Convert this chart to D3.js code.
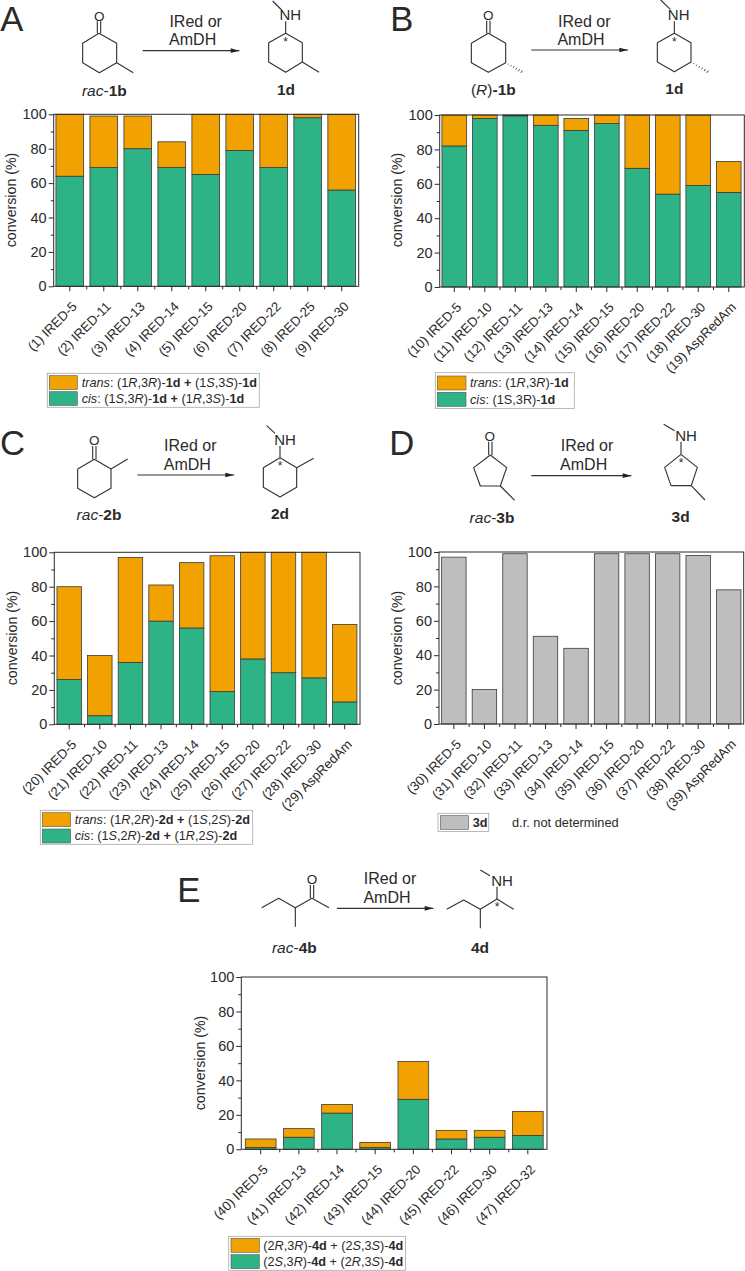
<!DOCTYPE html>
<html><head><meta charset="utf-8">
<script src="https://cdnjs.cloudflare.com/ajax/libs/d3/7.8.5/d3.min.js"></script>
<style>html,body{margin:0;padding:0;background:#fff}svg{display:block}text{font-family:"Liberation Sans",Arial,sans-serif;fill:#2a2a2a}</style>
</head><body><svg id="c" width="745" height="1271"></svg>
<script>
// ---------- data ----------
const catsA=["(1) IRED-5","(2) IRED-11","(3) IRED-13","(4) IRED-14","(5) IRED-15","(6) IRED-20","(7) IRED-22","(8) IRED-25","(9) IRED-30"];
const cisA=[64,69,80,69,65,79,69,98,56];
const transA=[36,30,19,15,35,21,31,2,44];
const catsB=["(10) IRED-5","(11) IRED-10","(12) IRED-11","(13) IRED-13","(14) IRED-14","(15) IRED-15","(16) IRED-20","(17) IRED-22","(18) IRED-30","(19) AspRedAm"];
const cisB=[82,98,99.5,94,91,95,69,54,59,55];
const transB=[18,2,0.5,6,7,5,31,46,41,18];
const catsC=["(20) IRED-5","(21) IRED-10","(22) IRED-11","(23) IRED-13","(24) IRED-14","(25) IRED-15","(26) IRED-20","(27) IRED-22","(28) IRED-30","(29) AspRedAm"];
const cisC=[26,5,36,60,56,19,38,30,27,13];
const transC=[54,35,61,21,38,79,62,70,73,45];
const catsD=["(30) IRED-5","(31) IRED-10","(32) IRED-11","(33) IRED-13","(34) IRED-14","(35) IRED-15","(36) IRED-20","(37) IRED-22","(38) IRED-30","(39) AspRedAm"];
const totalD=[97,20,99,51,44,99,99,99,98,78];
const catsE=["(40) IRED-5","(41) IRED-13","(42) IRED-14","(43) IRED-15","(44) IRED-20","(45) IRED-22","(46) IRED-30","(47) IRED-32"];
const cisE=[1,7,21,1,29,6,7,8];
const transE=[5,5,5,3,22,5,4,14];
const yTicks=[0,20,40,60,80,100];
const yMinor=[10,30,50,70,90];
const yLabel="conversion (%)";
// legend text: n = normal, i = italic, b = bold
const legA=[[["i","trans"],["n",": (1"],["i","R"],["n",",3"],["i","R"],["n",")-"],["b","1d"],["b"," + "],["n","(1"],["i","S"],["n",",3"],["i","S"],["n",")-"],["b","1d"]],
            [["i","cis"],["n",": (1"],["i","S"],["n",",3"],["i","R"],["n",")-"],["b","1d"],["b"," + "],["n","(1"],["i","R"],["n",",3"],["i","S"],["n",")-"],["b","1d"]]];
const legB=[[["i","trans"],["n",": (1"],["i","R"],["n",",3"],["i","R"],["n",")-"],["b","1d"]],
            [["i","cis"],["n",": (1S,3R)-"],["b","1d"]]];
const legC=[[["i","trans"],["n",": (1"],["i","R"],["n",",2"],["i","R"],["n",")-"],["b","2d"],["b"," + "],["n","(1"],["i","S"],["n",",2"],["i","S"],["n",")-"],["b","2d"]],
            [["i","cis"],["n",": (1"],["i","S"],["n",",2"],["i","R"],["n",")-"],["b","2d"],["b"," + "],["n","(1"],["i","R"],["n",",2"],["i","S"],["n",")-"],["b","2d"]]];
const legD=[[["b","3d"]]];
const legE=[[["n","(2"],["i","R"],["n",",3"],["i","R"],["n",")-"],["b","4d"],["n"," + "],["n","(2"],["i","S"],["n",",3"],["i","S"],["n",")-"],["b","4d"]],
            [["n","(2"],["i","S"],["n",",3"],["i","R"],["n",")-"],["b","4d"],["n"," + "],["n","(2"],["i","R"],["n",",3"],["i","S"],["n",")-"],["b","4d"]]];
const noteD="d.r. not determined";

// ---------- styles ----------
const ORANGE="#f1a200",GREEN="#2eb387",GREY="#bebebe",INK="#2a2a2a";
const svg=d3.select("#c");

function rich(sel,parts){
  parts.forEach(([k,t])=>{
    const s=sel.append("tspan").text(t);
    if(k==="i")s.attr("font-style","italic");
    if(k==="b")s.attr("font-weight","bold");
  });
}

function chart(o){
  const g=svg.append("g");
  const x=d3.scaleBand().domain(o.cats).range(o.xr).paddingInner(o.pad).paddingOuter(o.pad/2);
  const y=d3.scaleLinear().domain([0,100]).range([o.bottom,o.top]);
  const rows=o.cats.map((c,i)=>Object.fromEntries([["cat",c]].concat(o.series.map(s=>[s.key,s.values[i]]))));
  const stack=d3.stack().keys(o.series.map(s=>s.key))(rows);
  stack.forEach((lay,i)=>{
    g.append("g").selectAll("rect").data(lay).join("rect")
      .attr("x",d=>x(d.data.cat)).attr("width",x.bandwidth())
      .attr("y",d=>y(d[1])).attr("height",d=>y(d[0])-y(d[1]))
      .attr("fill",o.series[i].color).attr("stroke","#3a3a3a").attr("stroke-width",0.8);
  });
  g.append("rect").attr("x",o.left).attr("y",o.top).attr("width",o.right-o.left).attr("height",o.bottom-o.top)
    .attr("fill","none").attr("stroke",INK).attr("stroke-width",1);
  // y axis
  const ya=g.append("g").attr("transform",`translate(${o.left},0)`).call(d3.axisLeft(y).tickValues(yTicks).tickSize(5).tickPadding(2));
  ya.select(".domain").remove();
  ya.selectAll("line").attr("stroke",INK);
  ya.selectAll("text").attr("font-size",14.5).attr("font-family",'"Liberation Sans"').attr("fill",INK);
  const ym=g.append("g").attr("transform",`translate(${o.left},0)`).call(d3.axisLeft(y).tickValues(yMinor).tickSize(3).tickFormat(""));
  ym.select(".domain").remove(); ym.selectAll("line").attr("stroke",INK);
  // x axis
  const xa=g.append("g").attr("transform",`translate(0,${o.bottom})`).call(d3.axisBottom(x).tickSize(5).tickSizeOuter(0));
  xa.select(".domain").remove();
  xa.selectAll("line").attr("stroke",INK);
  xa.selectAll("text").attr("font-size",o.catSize||13.2).attr("font-family",'"Liberation Sans"').attr("fill","#333")
    .attr("text-anchor","end").attr("dy",0).attr("y",0)
    .attr("transform","translate(8,21) rotate(-45)");
  g.append("g").selectAll("line").data(o.cats.slice(1)).join("line")
    .attr("x1",c=>x(c)-x.step()*o.pad/2).attr("x2",c=>x(c)-x.step()*o.pad/2)
    .attr("y1",o.bottom).attr("y2",o.bottom+3).attr("stroke",INK);
  g.append("text").text(yLabel).attr("font-size",14.2).attr("fill","#333").attr("text-anchor","middle")
    .attr("transform",`translate(${o.ylx},${o.yly}) rotate(-90)`);
}

function legend(o){
  const g=svg.append("g");
  g.append("rect").attr("x",o.box[0]).attr("y",o.box[1]).attr("width",o.box[2]).attr("height",o.box[3])
    .attr("fill","#fff").attr("stroke","#a8a8a8").attr("stroke-width",0.8);
  o.items.forEach((it,i)=>{
    g.append("rect").attr("x",o.sx).attr("y",o.sy[i]).attr("width",o.sw).attr("height",o.sh)
      .attr("fill",it.color).attr("stroke","#555").attr("stroke-width",0.6);
    const t=g.append("text").attr("x",o.tx).attr("y",o.ty[i]).attr("font-size",o.size||12.7).attr("fill","#333");
    rich(t,it.parts);
  });
}

// ---------- schemes (drawn from zoomed-reference geometry, divided by 3) ----------
const line=d3.line();
function scheme(o){
  const g=svg.append("g").attr("transform",`translate(${o.ox},${o.oy}) scale(${1/3})`);
  const P=(pts,w)=>g.append("path").attr("d",line(pts)).attr("fill","none").attr("stroke","#333").attr("stroke-width",w||3.4).attr("stroke-linejoin","round");
  const label=(txt,x,y,size,anchor,parts)=>{
    const t=g.append("text").attr("x",x).attr("y",y).attr("font-size",size*3).attr("text-anchor",anchor||"middle").attr("fill","#222");
    if(parts)rich(t,parts); else t.text(txt);
    return t;
  };
  o.paths.forEach(p=>P(p));
  (o.dbl||[]).forEach(([a,b])=>{ P([[a[0]-5,a[1]],[b[0]-5,b[1]]]); P([[a[0]+5,a[1]],[b[0]+5,b[1]]]); });
  (o.hash||[]).forEach(([a,b])=>{
    const dx=b[0]-a[0],dy=b[1]-a[1],L=Math.hypot(dx,dy),nx=-dy/L,ny=dx/L;
    d3.range(1,7).forEach(i=>{const f=i/6.4,w=1+f*3.5,cx=a[0]+dx*f,cy=a[1]+dy*f;P([[cx-nx*w,cy-ny*w],[cx+nx*w,cy+ny*w]],2.6);});
  });
  P(o.arrow);
  const [ax,ay]=o.arrow[1];
  g.append("path").attr("d",line([[ax,ay],[ax-26,ay-7],[ax-26,ay+7]])+"Z").attr("fill","#222");
  label("O",o.O[0],o.O[1]+17,13.5);
  label("NH",o.NH[0],o.NH[1]+17,15);
  label("*",o.star[0],o.star[1]+11,12);
  label("IRed or",o.t1[0],o.t1[1],16);
  label("AmDH",o.t2[0],o.t2[1],16);
  label("",o.sub[0],o.sub[1],15.5,"middle",o.subParts);
  label("",o.prod[0],o.prod[1],15.5,"middle",[["b",o.prodText]]);
  g.append("text").text(o.letter).attr("x",o.lx).attr("y",o.ly).attr("font-size",104).attr("fill","#222");
}

scheme({letter:"A",lx:1,ly:94,ox:0,oy:0,
  paths:[[[297,100],[350,130],[350,188],[298,218],[248,188],[248,130],[297,100]],[[350,188],[400,218]],
         [[857,100],[907,128],[907,186],[857,217],[806,186],[806,128],[857,100]],[[907,186],[957,217]],[[857,100],[857,64]],[[845,30],[818,3]]],
  dbl:[[[297,100],[297,64]]],arrow:[[428,152],[718,152]],O:[298,45],NH:[871,43],star:[857,128],
  t1:[587,80],t2:[578,135],sub:[313,288],subParts:[["i","rac"],["n","-"],["b","1b"]],prod:[858,285],prodText:"1d"});
scheme({letter:"B",lx:55,ly:94,ox:372,oy:0,
  paths:[[[349,100],[401,130],[401,188],[349,217],[298,188],[298,130],[349,100]],
         [[907,100],[957,128],[957,186],[907,215],[856,186],[856,128],[907,100]],[[907,100],[907,64]],[[895,28],[866,0]]],
  dbl:[[[349,100],[349,62]]],hash:[[[401,188],[452,217]],[[957,186],[1010,217]]],arrow:[[478,150],[768,150]],O:[349,43],NH:[920,43],star:[907,128],
  t1:[637,80],t2:[627,135],sub:[364,285],subParts:[["n","("],["i","R"],["n",")"],["b","-1b"]],prod:[907,283],prodText:"1d"});
scheme({letter:"C",lx:0,ly:106,ox:0,oy:420,
  paths:[[[283,118],[333,147],[333,205],[283,233],[233,205],[233,147],[283,118]],[[333,147],[383,117]],
         [[840,113],[890,143],[890,202],[840,231],[790,202],[790,143],[840,113]],[[890,143],[941,115]],[[840,113],[840,78]],[[825,40],[800,17]]],
  dbl:[[[283,118],[283,78]]],arrow:[[412,165],[702,165]],O:[283,58],NH:[855,58],star:[840,140],
  t1:[571,94],t2:[562,149],sub:[297,300],subParts:[["i","rac"],["n","-"],["b","2b"]],prod:[840,298],prodText:"2d"});
scheme({letter:"D",lx:52,ly:106,ox:372,oy:420,
  paths:[[[355,105],[404,143],[385,198],[325,198],[305,143],[355,105]],[[385,198],[428,241]],
         [[927,103],[976,142],[958,197],[897,197],[878,142],[927,103]],[[958,197],[999,240]],[[927,103],[927,65]],[[908,32],[875,13]]],
  dbl:[[[355,105],[355,65]]],arrow:[[478,167],[778,167]],O:[353,45],NH:[942,45],star:[927,130],
  t1:[645,93],t2:[635,150],sub:[360,308],subParts:[["i","rac"],["n","-"],["b","3b"]],prod:[926,305],prodText:"3d"});
scheme({letter:"E",lx:22,ly:125,ox:170,oy:860,
  paths:[[[275,143],[326,115],[376,143],[426,115],[477,143]],[[376,143],[376,200]],
         [[830,148],[881,120],[931,148],[981,117],[1031,148]],[[931,148],[931,205]],[[981,117],[981,80]],[[960,47],[931,30]]],
  dbl:[[[426,115],[426,75]]],arrow:[[501,145],[790,145]],O:[426,55],NH:[996,60],star:[981,142],
  t1:[660,73],t2:[651,130],sub:[373,280],subParts:[["i","rac"],["n","-"],["b","4b"]],prod:[930,278],prodText:"4d"});

// ---------- charts ----------
const two=(c,t)=>[{key:"cis",values:c,color:GREEN},{key:"trans",values:t,color:ORANGE}];
chart({cats:catsA,series:two(cisA,transA),xr:[52.8,358.7],pad:0.185,left:53.7,right:358.7,top:114.3,bottom:286.3,ylx:16,yly:200});
chart({cats:catsB,series:two(cisB,transB),xr:[439.05,744],pad:0.19,left:439.7,right:744.3,top:115,bottom:287,ylx:402,yly:200});
chart({cats:catsC,series:two(cisC,transC),xr:[53.9,360],pad:0.2,left:54.3,right:360,top:552.3,bottom:724.3,ylx:17,yly:638});
chart({cats:catsD,series:[{key:"total",values:totalD,color:GREY}],xr:[438.6,744],pad:0.2,left:439,right:743.7,top:552,bottom:724,ylx:402,yly:638});
chart({cats:catsE,series:two(cisE,transE),xr:[241.6,546.9],pad:0.195,left:241.3,right:547,top:977,bottom:1149.3,ylx:205,yly:1063});

// ---------- legends ----------
legend({box:[47.3,373.3,212,34],sx:49.3,sy:[375.7,391.7],sw:28,sh:13.7,tx:81.7,ty:[387,403.3],items:[{color:ORANGE,parts:legA[0]},{color:GREEN,parts:legA[1]}]});
legend({box:[435.3,372.7,139,35.7],sx:437.3,sy:[376,392.3],sw:28.7,sh:14,tx:470,ty:[387.3,403.7],items:[{color:ORANGE,parts:legB[0]},{color:GREEN,parts:legB[1]}]});
legend({box:[40.3,810.3,212.4,34],sx:42.3,sy:[812.7,829],sw:28.3,sh:14,tx:74.7,ty:[823.7,840],items:[{color:ORANGE,parts:legC[0]},{color:GREEN,parts:legC[1]}]});
legend({box:[438,813.3,50.7,18.3],sx:440.3,sy:[815.7],sw:28.3,sh:13.7,tx:472.7,ty:[827],items:[{color:GREY,parts:legD[0]}]});
svg.append("text").text(noteD).attr("x",512).attr("y",826.7).attr("font-size",12.8).attr("fill","#333");
legend({box:[228.7,1236.3,176.7,34],sx:231,sy:[1238.3,1254.7],sw:28.3,sh:14,tx:263.3,ty:[1249.7,1266],items:[{color:ORANGE,parts:legE[0]},{color:GREEN,parts:legE[1]}]});
</script></body></html>
